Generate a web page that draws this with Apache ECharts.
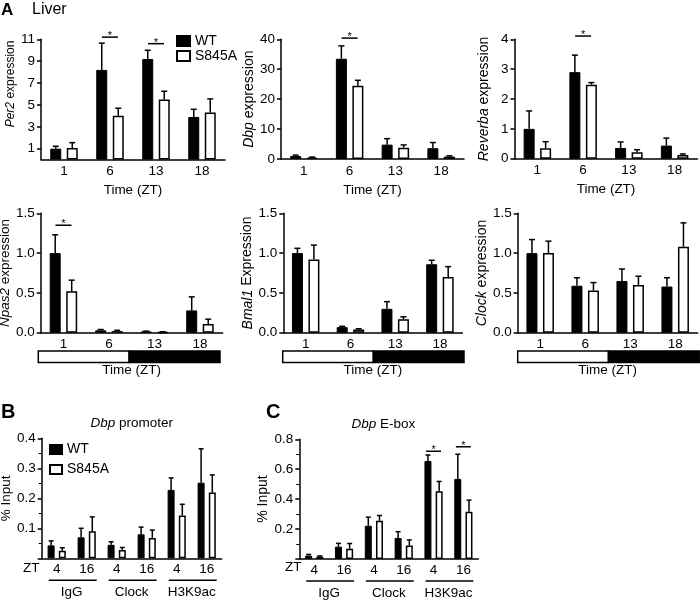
<!DOCTYPE html>
<html><head><meta charset="utf-8">
<script src="https://cdn.jsdelivr.net/npm/echarts@6/dist/echarts.min.js"></script>
<style>html,body{margin:0;padding:0;background:#fff}#c{width:700px;height:602px}</style>
</head><body><div id="c"></div>
<script>
// ---------- DATA ----------
const timeCats = ['1', '6', '13', '18'];
const per2WT = [1.0, 8.2, 9.2, 3.9];     const per2WTErr = [0.22, 2.45, 0.8, 0.7];
const per2KI = [1.05, 4.0, 5.5, 4.3];    const per2KIErr = [0.5, 0.7, 0.75, 1.25];
const dbpWT = [1.0, 33.5, 4.8, 3.6];     const dbpWTErr = [0.3, 4.3, 2.0, 1.9];
const dbpKI = [0.5, 24.5, 3.8, 0.8];     const dbpKIErr = [0.15, 1.8, 0.9, 0.25];
const revWT = [1.0, 2.9, 0.36, 0.44];    const revWTErr = [0.6, 0.57, 0.2, 0.25];
const revKI = [0.35, 2.48, 0.22, 0.12];  const revKIErr = [0.22, 0.07, 0.08, 0.04];
const npasWT = [1.0, 0.03, 0.015, 0.28]; const npasWTErr = [0.23, 0.01, 0.005, 0.17];
const npasKI = [0.52, 0.02, 0.008, 0.11];const npasKIErr = [0.14, 0.01, 0.003, 0.06];
const bmalWT = [1.0, 0.07, 0.3, 0.86];   const bmalWTErr = [0.06, 0.01, 0.09, 0.05];
const bmalKI = [0.92, 0.04, 0.17, 0.70]; const bmalKIErr = [0.18, 0.01, 0.03, 0.13];
const clockWT = [1.0, 0.59, 0.65, 0.58]; const clockWTErr = [0.17, 0.1, 0.15, 0.11];
const clockKI = [1.0, 0.53, 0.6, 1.08];  const clockKIErr = [0.15, 0.1, 0.11, 0.3];

const chipGroups = ['IgG', 'Clock', 'H3K9ac'];
const chipZT = ['4', '16'];
const promWT = [0.043, 0.07, 0.045, 0.08, 0.228, 0.252]; const promWTErr = [0.015, 0.03, 0.01, 0.024, 0.04, 0.113];
const promKI = [0.025, 0.09, 0.028, 0.068, 0.143, 0.219]; const promKIErr = [0.01, 0.048, 0.008, 0.026, 0.037, 0.059];
const eboxWT = [0.022, 0.082, 0.222, 0.14, 0.655, 0.535]; const eboxWTErr = [0.008, 0.022, 0.057, 0.042, 0.04, 0.165];
const eboxKI = [0.015, 0.068, 0.255, 0.09, 0.453, 0.315]; const eboxKIErr = [0.005, 0.035, 0.035, 0.037, 0.065, 0.078];

// significance markers: [category index, height]
const per2Sig = [[1, 11.2], [2, 10.6]];
const dbpSig = [[1, 40.4]];
const revSig = [[1, 4.11]];
const npasSig = [[0, 1.35]];
const eboxSig = [[4, 0.72], [5, 0.75]];

// light/dark phases (ZT start, ZT end, dark flag)
const ldPhases = [[0, 12, 0], [12, 24, 1]];

const per2Ticks = [1, 3, 5, 7, 9, 11];
// ---------- BUILD ----------
const FONT = 'Liberation Sans, Arial, sans-serif';
const FS = 13.5;   // tick labels / x names
const NFS = 14;    // y axis names
const chipCats = [];
chipGroups.forEach(g => chipZT.forEach(z => chipCats.push(g + ' ' + z)));
const groupSpans = chipGroups.map((g, i) => [i * 2, i * 2 + 1]);

const LW = 1.5;
function errRender(off, cap) {
  return function (params, api) {
    const i = api.value(0);
    const base = api.coord([i, api.value(1)]);
    const top = api.coord([i, api.value(1) + api.value(2)]);
    const x = base[0] + off;
    return { type: 'group', children: [
      { type: 'line', shape: { x1: x, y1: base[1], x2: x, y2: top[1] }, style: { stroke: '#000', fill: null, lineWidth: LW } },
      { type: 'line', shape: { x1: x - cap, y1: top[1], x2: x + cap, y2: top[1] }, style: { stroke: '#000', fill: null, lineWidth: LW } }
    ] };
  };
}
function sigRender(half) {
  return function (params, api) {
    const c = api.coord([api.value(0), api.value(1)]);
    return { type: 'group', children: [
      { type: 'line', shape: { x1: c[0] - half, y1: c[1], x2: c[0] + half, y2: c[1] }, style: { stroke: '#000', fill: null, lineWidth: LW } },
      { type: 'text', x: c[0], y: c[1] - 1, silent: true,
        style: { text: '*', fill: '#000', fontSize: 11, fontFamily: FONT, align: 'center', verticalAlign: 'middle' } }
    ] };
  };
}
function ldRender(params, api) {
  const s = api.coord([api.value(0), 1]);
  const e = api.coord([api.value(1), 0]);
  return { type: 'rect', shape: { x: s[0], y: s[1], width: e[0] - s[0], height: e[1] - s[1] },
    style: { fill: api.value(2) ? '#000' : '#fff', stroke: '#000', lineWidth: LW } };
}
function groupLineRender(params, api) {
  const a = api.coord([api.value(0), 0]);
  const b = api.coord([api.value(1), 0]);
  const y = a[1] + 22;
  return { type: 'line', shape: { x1: a[0] - 8, y1: y, x2: b[0] + 10, y2: y }, style: { stroke: '#000', fill: null, lineWidth: LW } };
}
const blackStyle = { color: '#000' };

function panelSeries(idx, wt, wtErr, ki, kiErr, bw, gap, off, cap, sig, sigHalf) {
  const s = [
    { type: 'bar', name: 'WT', xAxisIndex: idx, yAxisIndex: idx, data: wt, barWidth: bw, barGap: gap,
      itemStyle: { color: '#000', borderColor: '#000', borderWidth: 1 } },
    { type: 'bar', name: 'S845A', xAxisIndex: idx, yAxisIndex: idx, data: ki, barWidth: bw, barGap: gap,
      itemStyle: { color: '#fff', borderColor: '#000', borderWidth: LW } },
    { type: 'custom', xAxisIndex: idx, yAxisIndex: idx, clip: false, z: 3, itemStyle: blackStyle, renderItem: errRender(-off, cap),
      data: wt.map((v, i) => [i, v, wtErr[i]]) },
    { type: 'custom', xAxisIndex: idx, yAxisIndex: idx, clip: false, z: 3, itemStyle: blackStyle, renderItem: errRender(off, cap),
      data: ki.map((v, i) => [i, v, kiErr[i]]) }
  ];
  if (sig) s.push({ type: 'custom', xAxisIndex: idx, yAxisIndex: idx, clip: false, z: 3, itemStyle: blackStyle, renderItem: sigRender(sigHalf), data: sig });
  return s;
}

const grids = [
  { left: 41, top: 39.3, width: 184, height: 120.3 },
  { left: 281, top: 39.3, width: 183, height: 119.7 },
  { left: 514.5, top: 39.3, width: 183, height: 119.4 },
  { left: 40.7, top: 213.3, width: 182, height: 119.4 },
  { left: 283.3, top: 213.3, width: 179, height: 119.4 },
  { left: 517.7, top: 213.3, width: 180, height: 119.4 },
  { left: 41.7, top: 438.3, width: 180, height: 120 },
  { left: 299.3, top: 439.3, width: 179, height: 119.6 },
  { left: 38.3, top: 351, width: 181.7, height: 11.5 },
  { left: 282.7, top: 351, width: 181.3, height: 11.5 },
  { left: 517.7, top: 351, width: 181.5, height: 11.5 }
].map(g => Object.assign({ outerBoundsMode: 'none', containLabel: false }, g));

const axLine = { show: true, lineStyle: { color: '#000', width: LW } };
const txt = { color: '#000', fontFamily: FONT, fontSize: FS };
function timeX(gi, nameGap) {
  return { type: 'category', gridIndex: gi, data: timeCats, axisLine: axLine, axisTick: { show: false },
    axisLabel: Object.assign({ margin: 5, interval: 0 }, txt),
    name: 'Time (ZT)', nameLocation: 'middle', nameGap: nameGap, nameTextStyle: Object.assign({}, txt, { fontSize: 13.5 }) };
}
function chipX(gi) {
  return { type: 'category', gridIndex: gi, data: chipCats, axisLine: axLine, axisTick: { show: false },
    axisLabel: Object.assign({ margin: 4, interval: 0, formatter: v => v.split(' ')[1] }, txt) };
}
function groupX(gi) {
  return { type: 'category', gridIndex: gi, data: chipGroups, position: 'bottom', offset: 22,
    axisLine: { show: false }, axisTick: { show: false }, splitLine: { show: false },
    axisLabel: Object.assign({ margin: 5, interval: 0, hideOverlap: false }, txt) };
}
function ldX(gi) {
  return { type: 'value', gridIndex: gi, min: 0, max: 24, show: false, splitLine: { show: false } };
}
function ldY(gi) {
  return { type: 'value', gridIndex: gi, min: 0, max: 1, show: false, splitLine: { show: false } };
}
function valY(gi, min, max, interval, name, nameGap, fmt, extra, nfs, npad) {
  const size = nfs || NFS;
  return Object.assign({ type: 'value', gridIndex: gi, min: min, max: max, interval: interval,
    axisLine: axLine, axisTick: { show: true, length: 4, lineStyle: { color: '#000', width: LW } },
    splitLine: { show: false },
    axisLabel: Object.assign({ margin: 6, formatter: fmt }, txt),
    name: name, nameLocation: 'middle', nameGap: nameGap,
    nameTextStyle: Object.assign({}, txt, { fontSize: size, padding: npad || 0,
      rich: { i: { fontStyle: 'italic', fontSize: size, fontFamily: FONT, color: '#000' } } })
  }, extra || {});
}
const f1 = v => v.toFixed(1);
const fNo0 = v => v === 0 ? '' : v.toFixed(1);

const xAxes = [
  timeX(0, 24), timeX(1, 24), timeX(2, 24), timeX(3, 31), timeX(4, 31), timeX(5, 31),
  chipX(6), chipX(7), groupX(6), groupX(7), ldX(8), ldX(9), ldX(10)
];
const minorT = { show: true, splitNumber: 2, length: 3, lineStyle: { color: '#000', width: 1 } };
const yAxes = [
  valY(0, 0, 11, 1, '{i|Per2} expression', 22, v => String(v),
    { axisLabel: Object.assign({ margin: 6, customValues: per2Ticks }, txt),
      axisTick: { show: true, length: 4, customValues: per2Ticks, lineStyle: { color: '#000', width: LW } } },
    12, [0, 0, 0, 31]),
  valY(1, 0, 40, 10, '{i|Dbp} expression', 23, v => String(v)),
  valY(2, 0, 4, 1, '{i|Reverba} expression', 23, v => String(v)),
  valY(3, 0, 1.5, 0.5, '{i|Npas2} expression', 18, f1, null, 13.5),
  valY(4, 0, 1.5, 0.5, '{i|Bmal1} Expression', 24, f1),
  valY(5, 0, 1.5, 0.5, '{i|Clock} expression', 25, f1),
  valY(6, 0, 0.4, 0.1, '% Input', 18, fNo0, { minorTick: minorT }, 13.5),
  valY(7, 0, 0.8, 0.2, '% Input', 25, fNo0, { minorTick: minorT }),
  ldY(8), ldY(9), ldY(10)
];

let series = [];
series = series.concat(panelSeries(0, per2WT, per2WTErr, per2KI, per2KIErr, 11, '50%', 8.25, 3, per2Sig, 8));
series = series.concat(panelSeries(1, dbpWT, dbpWTErr, dbpKI, dbpKIErr, 11, '50%', 8.25, 3, dbpSig, 8));
series = series.concat(panelSeries(2, revWT, revWTErr, revKI, revKIErr, 11, '50%', 8.25, 3, revSig, 8));
series = series.concat(panelSeries(3, npasWT, npasWTErr, npasKI, npasKIErr, 11, '50%', 8.25, 3, npasSig, 8));
series = series.concat(panelSeries(4, bmalWT, bmalWTErr, bmalKI, bmalKIErr, 11, '50%', 8.25, 3, null, 8));
series = series.concat(panelSeries(5, clockWT, clockWTErr, clockKI, clockKIErr, 11, '50%', 8.25, 3, null, 8));
series = series.concat(panelSeries(6, promWT, promWTErr, promKI, promKIErr, 7, '60%', 5.6, 2.5, null, 7.5));
series = series.concat(panelSeries(7, eboxWT, eboxWTErr, eboxKI, eboxKIErr, 7, '60%', 5.6, 2.5, eboxSig, 7.5));
[6, 7].forEach(i => series.push({ type: 'custom', xAxisIndex: i, yAxisIndex: i, clip: false, itemStyle: blackStyle, renderItem: groupLineRender, data: groupSpans }));
// LD bars: xAxis 10..12 / yAxis 8..10 live on grids 8..10
[[10, 8], [11, 9], [12, 10]].forEach(p => series.push({ type: 'custom', xAxisIndex: p[0], yAxisIndex: p[1], clip: false, itemStyle: blackStyle, renderItem: ldRender, data: ldPhases }));

const richI = { i: { fontStyle: 'italic', fontSize: FS, fontFamily: FONT, color: '#000' } };
const option = {
  animation: false,
  color: ['#000'],
  backgroundColor: '#fff',
  textStyle: { fontFamily: FONT, color: '#000' },
  grid: grids,
  xAxis: xAxes,
  yAxis: yAxes,
  series: series,
  legend: [
    { data: ['WT', 'S845A'], left: 176, top: 34, padding: 0, orient: 'vertical', icon: 'rect', itemWidth: 13, itemHeight: 10,
      itemGap: 1, selectedMode: false, textStyle: { color: '#000', fontFamily: FONT, fontSize: 14, lineHeight: 13 } },
    { data: ['WT', 'S845A'], left: 49, top: 442, padding: 0, orient: 'vertical', icon: 'rect', itemWidth: 12, itemHeight: 9,
      itemGap: 5, selectedMode: false, textStyle: { color: '#000', fontFamily: FONT, fontSize: 14, lineHeight: 15 } }
  ],
  title: [
    { text: '{i|Dbp} promoter', left: 131.7, top: 416, textAlign: 'center', padding: 0,
      textStyle: { color: '#000', fontFamily: FONT, fontSize: FS, fontWeight: 'normal', rich: richI } },
    { text: '{i|Dbp} E-box', left: 383.3, top: 417, textAlign: 'center', padding: 0,
      textStyle: { color: '#000', fontFamily: FONT, fontSize: FS, fontWeight: 'normal', rich: richI } }
  ],
  graphic: [
    { type: 'text', left: 1, top: 2, style: { text: 'A', font: 'bold 17px ' + FONT, fill: '#000' } },
    { type: 'text', left: 32, top: 2, style: { text: 'Liver', font: '16px ' + FONT, fill: '#000' } },
    { type: 'text', left: 1, top: 402, style: { text: 'B', font: 'bold 20px ' + FONT, fill: '#000' } },
    { type: 'text', left: 266, top: 402, style: { text: 'C', font: 'bold 20px ' + FONT, fill: '#000' } },
    { type: 'text', left: 23, top: 561, style: { text: 'ZT', font: FS + 'px ' + FONT, fill: '#000' } },
    { type: 'text', left: 285, top: 560, style: { text: 'ZT', font: FS + 'px ' + FONT, fill: '#000' } }
  ]
};
const chart = echarts.init(document.getElementById('c'), null, { renderer: 'canvas' });
chart.setOption(option);
</script></body></html>
